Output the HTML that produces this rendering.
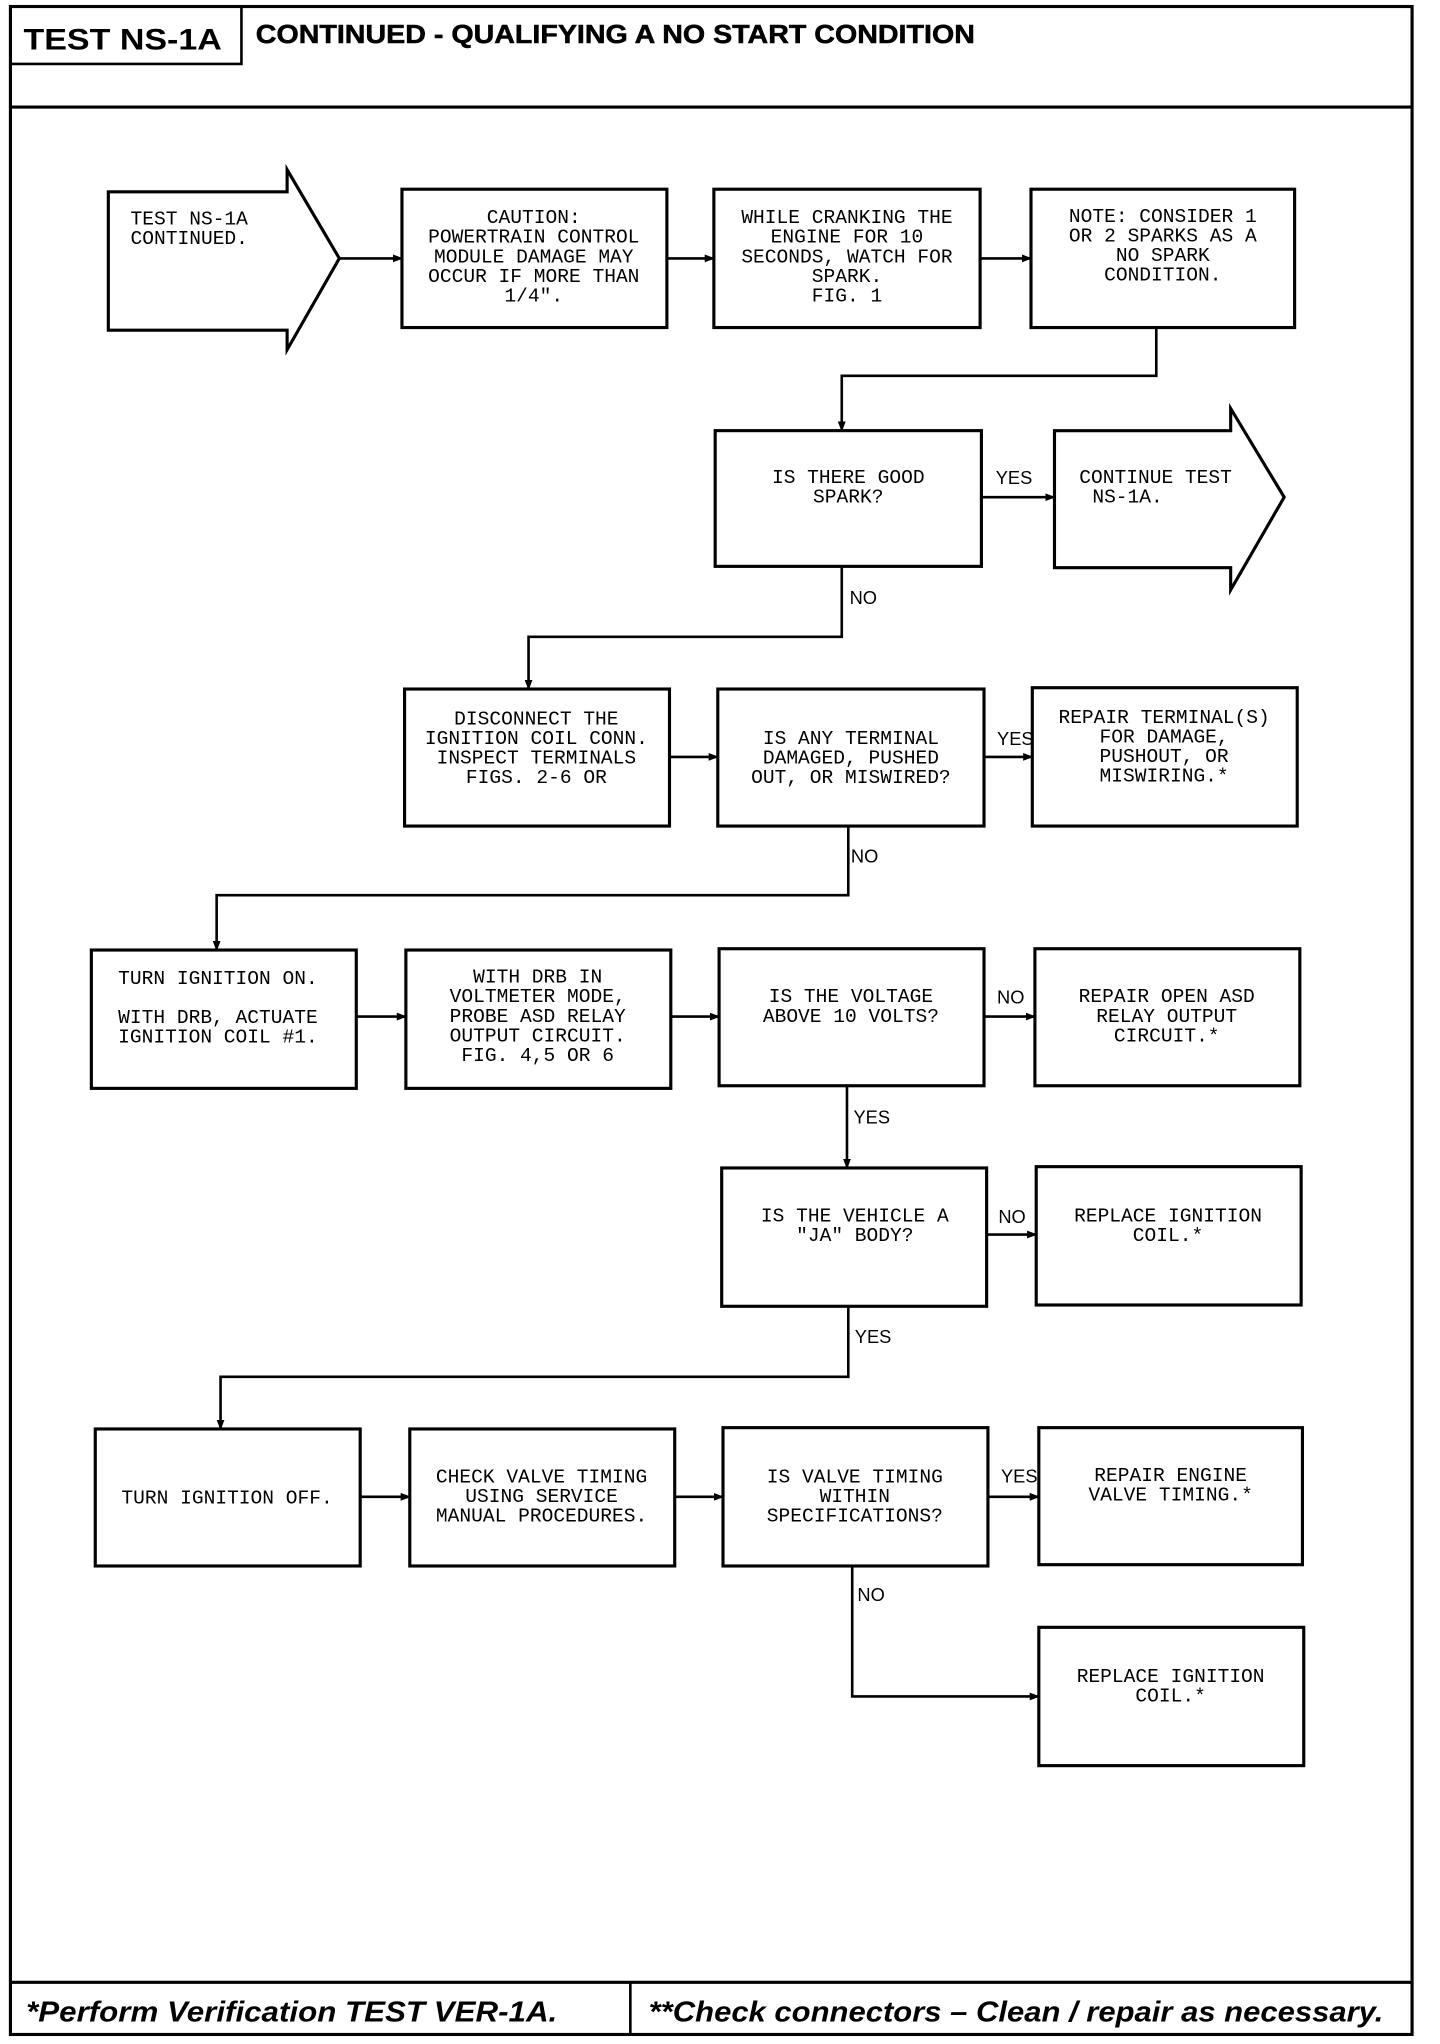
<!DOCTYPE html>
<html><head><meta charset="utf-8"><style>
html,body{margin:0;padding:0;background:#fff;}
svg{display:block;}
.b{fill:#fff;stroke:#000;stroke-width:2.4;}
.l{fill:none;stroke:#000;stroke-width:2;}
.t{font-family:"Liberation Mono",monospace;font-size:15px;fill:#000;text-anchor:middle;}
.lb{font-family:"Liberation Sans",sans-serif;font-size:14px;fill:#000;}
</style></head><body>
<svg width="1440" height="2044" viewBox="0 0 1103.4 1566.3" preserveAspectRatio="none" xmlns="http://www.w3.org/2000/svg">
<defs><marker id="a" markerWidth="8" markerHeight="8" refX="7" refY="4" orient="auto" markerUnits="userSpaceOnUse"><path d="M0,1 L8,4 L0,7 z" fill="#000"/></marker></defs>
<!-- frame -->
<rect x="8" y="5" width="1074" height="1554" fill="none" stroke="#000" stroke-width="2.4"/>
<rect x="8" y="5" width="177" height="44" fill="none" stroke="#000" stroke-width="2"/>
<line x1="8" y1="82" x2="1082" y2="82" stroke="#000" stroke-width="2.4"/>
<text x="18" y="38" font-family="Liberation Sans,sans-serif" font-weight="bold" font-size="23" textLength="152" lengthAdjust="spacingAndGlyphs">TEST NS-1A</text>
<text x="196" y="33" font-family="Liberation Sans,sans-serif" font-weight="bold" font-size="20" textLength="551" lengthAdjust="spacingAndGlyphs" stroke="#000" stroke-width="0.4">CONTINUED -  QUALIFYING A NO START CONDITION</text>
<line x1="8" y1="1519" x2="1082" y2="1519" stroke="#000" stroke-width="2.4"/>
<line x1="483" y1="1519" x2="483" y2="1559" stroke="#000" stroke-width="2"/>
<text x="20" y="1549" font-family="Liberation Sans,sans-serif" font-weight="bold" font-style="italic" font-size="22" textLength="407" lengthAdjust="spacingAndGlyphs">*Perform Verification TEST VER-1A.</text>
<text x="497" y="1549" font-family="Liberation Sans,sans-serif" font-weight="bold" font-style="italic" font-size="22" textLength="563" lengthAdjust="spacingAndGlyphs">**Check connectors – Clean / repair as necessary.</text>

<!-- row1 -->
<path class="b" d="M83,147 L220,147 L220,130 L260,198 L220,268 L220,253 L83,253 Z"/>
<text class="t"><tspan x="145" y="172">TEST NS-1A</tspan><tspan x="145" y="187">CONTINUED.</tspan></text>
<line class="l" x1="260" y1="198" x2="308" y2="198" marker-end="url(#a)"/>
<rect class="b" x="308" y="145" width="203" height="106"/>
<text class="t"><tspan x="409" y="171">CAUTION:</tspan><tspan x="409" y="186">POWERTRAIN CONTROL</tspan><tspan x="409" y="201">MODULE DAMAGE MAY</tspan><tspan x="409" y="216">OCCUR IF MORE THAN</tspan><tspan x="409" y="231">1/4".</tspan></text>
<line class="l" x1="511" y1="198" x2="547" y2="198" marker-end="url(#a)"/>
<rect class="b" x="547" y="145" width="204" height="106"/>
<text class="t"><tspan x="649" y="171">WHILE CRANKING THE</tspan><tspan x="649" y="186">ENGINE FOR 10</tspan><tspan x="649" y="201">SECONDS, WATCH FOR</tspan><tspan x="649" y="216">SPARK.</tspan><tspan x="649" y="231">FIG. 1</tspan></text>
<line class="l" x1="751" y1="198" x2="790" y2="198" marker-end="url(#a)"/>
<rect class="b" x="790" y="145" width="202" height="106"/>
<text class="t"><tspan x="891" y="170">NOTE: CONSIDER 1</tspan><tspan x="891" y="185">OR 2 SPARKS AS A</tspan><tspan x="891" y="200">NO SPARK</tspan><tspan x="891" y="215">CONDITION.</tspan></text>
<polyline class="l" points="886,251 886,288 645,288 645,330" marker-end="url(#a)"/>

<!-- row2 -->
<rect class="b" x="548" y="330" width="204" height="104"/>
<text class="t"><tspan x="650" y="370">IS THERE GOOD</tspan><tspan x="650" y="385">SPARK?</tspan></text>
<line class="l" x1="752" y1="381" x2="808" y2="381" marker-end="url(#a)"/>
<text class="lb" x="763" y="371">YES</text>
<path class="b" d="M808,330 L943,330 L943,313 L984,381 L943,452 L943,435 L808,435 Z"/>
<text class="t" style="text-anchor:start"><tspan x="827" y="370">CONTINUE TEST</tspan><tspan x="837" y="385">NS-1A.</tspan></text>
<polyline class="l" points="645,434 645,488 405,488 405,528" marker-end="url(#a)"/>
<text class="lb" x="651" y="463">NO</text>

<!-- row3 -->
<rect class="b" x="310" y="528" width="203" height="105"/>
<text class="t"><tspan x="411" y="555">DISCONNECT THE</tspan><tspan x="411" y="570">IGNITION COIL CONN.</tspan><tspan x="411" y="585">INSPECT TERMINALS</tspan><tspan x="411" y="600">FIGS. 2-6 OR</tspan></text>
<line class="l" x1="513" y1="580" x2="550" y2="580" marker-end="url(#a)"/>
<rect class="b" x="550" y="528" width="204" height="105"/>
<text class="t"><tspan x="652" y="570">IS ANY TERMINAL</tspan><tspan x="652" y="585">DAMAGED, PUSHED</tspan><tspan x="652" y="600">OUT, OR MISWIRED?</tspan></text>
<line class="l" x1="754" y1="580" x2="791" y2="580" marker-end="url(#a)"/>
<text class="lb" x="764" y="571">YES</text>
<rect class="b" x="791" y="527" width="203" height="106"/>
<text class="t"><tspan x="892" y="554">REPAIR TERMINAL(S)</tspan><tspan x="892" y="569">FOR DAMAGE,</tspan><tspan x="892" y="584">PUSHOUT, OR</tspan><tspan x="892" y="599">MISWIRING.*</tspan></text>
<polyline class="l" points="650,633 650,686 166,686 166,728" marker-end="url(#a)"/>
<text class="lb" x="652" y="661">NO</text>

<!-- row4 -->
<rect class="b" x="70" y="728" width="203" height="106"/>
<text class="t"><tspan x="167" y="754">TURN IGNITION ON.</tspan><tspan x="167" y="784">WITH DRB, ACTUATE</tspan><tspan x="167" y="799">IGNITION COIL #1.</tspan></text>
<line class="l" x1="273" y1="779" x2="311" y2="779" marker-end="url(#a)"/>
<rect class="b" x="311" y="728" width="203" height="106"/>
<text class="t"><tspan x="412" y="753">WITH DRB IN</tspan><tspan x="412" y="768">VOLTMETER MODE,</tspan><tspan x="412" y="783">PROBE ASD RELAY</tspan><tspan x="412" y="798">OUTPUT CIRCUIT.</tspan><tspan x="412" y="813">FIG. 4,5 OR 6</tspan></text>
<line class="l" x1="514" y1="779" x2="551" y2="779" marker-end="url(#a)"/>
<rect class="b" x="551" y="727" width="203" height="105"/>
<text class="t"><tspan x="652" y="768">IS THE VOLTAGE</tspan><tspan x="652" y="783">ABOVE 10 VOLTS?</tspan></text>
<line class="l" x1="754" y1="779" x2="793" y2="779" marker-end="url(#a)"/>
<text class="lb" x="764" y="769">NO</text>
<rect class="b" x="793" y="727" width="203" height="105"/>
<text class="t"><tspan x="894" y="768">REPAIR OPEN ASD</tspan><tspan x="894" y="783">RELAY OUTPUT</tspan><tspan x="894" y="798">CIRCUIT.*</tspan></text>
<line class="l" x1="649" y1="832" x2="649" y2="895" marker-end="url(#a)"/>
<text class="lb" x="654" y="861">YES</text>

<!-- row5 -->
<rect class="b" x="553" y="895" width="203" height="106"/>
<text class="t"><tspan x="655" y="936">IS THE VEHICLE A</tspan><tspan x="655" y="951">"JA" BODY?</tspan></text>
<line class="l" x1="756" y1="946" x2="794" y2="946" marker-end="url(#a)"/>
<text class="lb" x="765" y="937">NO</text>
<rect class="b" x="794" y="894" width="203" height="106"/>
<text class="t"><tspan x="895" y="936">REPLACE IGNITION</tspan><tspan x="895" y="951">COIL.*</tspan></text>
<polyline class="l" points="650,1001 650,1055 169,1055 169,1095" marker-end="url(#a)"/>
<text class="lb" x="655" y="1029">YES</text>

<!-- row6 -->
<rect class="b" x="73" y="1095" width="203" height="105"/>
<text class="t"><tspan x="174" y="1152">TURN IGNITION OFF.</tspan></text>
<line class="l" x1="276" y1="1147" x2="314" y2="1147" marker-end="url(#a)"/>
<rect class="b" x="314" y="1095" width="203" height="105"/>
<text class="t"><tspan x="415" y="1136">CHECK VALVE TIMING</tspan><tspan x="415" y="1151">USING SERVICE</tspan><tspan x="415" y="1166">MANUAL PROCEDURES.</tspan></text>
<line class="l" x1="517" y1="1147" x2="554" y2="1147" marker-end="url(#a)"/>
<rect class="b" x="554" y="1094" width="203" height="106"/>
<text class="t"><tspan x="655" y="1136">IS VALVE TIMING</tspan><tspan x="655" y="1151">WITHIN</tspan><tspan x="655" y="1166">SPECIFICATIONS?</tspan></text>
<line class="l" x1="757" y1="1147" x2="796" y2="1147" marker-end="url(#a)"/>
<text class="lb" x="767" y="1136">YES</text>
<rect class="b" x="796" y="1094" width="202" height="105"/>
<text class="t"><tspan x="897" y="1135">REPAIR ENGINE</tspan><tspan x="897" y="1150">VALVE TIMING.*</tspan></text>
<polyline class="l" points="653,1200 653,1300 796,1300" marker-end="url(#a)"/>
<text class="lb" x="657" y="1227">NO</text>
<rect class="b" x="796" y="1247" width="203" height="106"/>
<text class="t"><tspan x="897" y="1289">REPLACE IGNITION</tspan><tspan x="897" y="1304">COIL.*</tspan></text>
</svg>
</body></html>
